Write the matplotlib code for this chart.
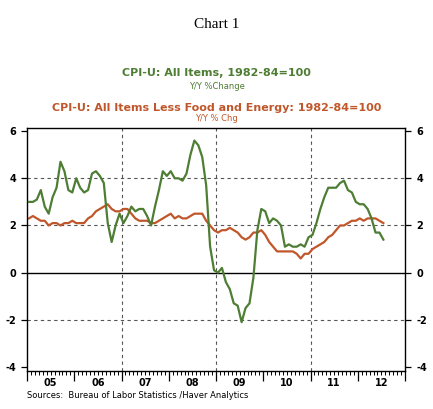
"""
CPI-U headline vs core, Y/Y % change
"""
import numpy as np
import matplotlib
matplotlib.use("Agg")
import matplotlib.pyplot as plt
from matplotlib.ticker import FixedLocator, MultipleLocator

# monthly values, Jan 2005 .. Jul 2012
cpi_all = [
    3.0, 3.0, 3.1, 3.5, 2.8, 2.5, 3.2, 3.6, 4.7, 4.3, 3.5, 3.4,   # 2005
    4.0, 3.6, 3.4, 3.5, 4.2, 4.3, 4.1, 3.8, 2.1, 1.3, 2.0, 2.5,   # 2006
    2.1, 2.4, 2.8, 2.6, 2.7, 2.7, 2.4, 2.0, 2.8, 3.5, 4.3, 4.1,   # 2007
    4.3, 4.0, 4.0, 3.9, 4.2, 5.0, 5.6, 5.4, 4.9, 3.7, 1.1, 0.1,   # 2008
    0.0, 0.2, -0.4, -0.7, -1.3, -1.4, -2.1, -1.5, -1.3, -0.2, 1.8, 2.7,  # 2009
    2.6, 2.1, 2.3, 2.2, 2.0, 1.1, 1.2, 1.1, 1.1, 1.2, 1.1, 1.5,   # 2010
    1.6, 2.1, 2.7, 3.2, 3.6, 3.6, 3.6, 3.8, 3.9, 3.5, 3.4, 3.0,   # 2011
    2.9, 2.9, 2.7, 2.3, 1.7, 1.7, 1.4,                            # 2012
]
cpi_core = [
    2.3, 2.4, 2.3, 2.2, 2.2, 2.0, 2.1, 2.1, 2.0, 2.1, 2.1, 2.2,
    2.1, 2.1, 2.1, 2.3, 2.4, 2.6, 2.7, 2.8, 2.9, 2.7, 2.6, 2.6,
    2.7, 2.7, 2.5, 2.3, 2.2, 2.2, 2.2, 2.1, 2.1, 2.2, 2.3, 2.4,
    2.5, 2.3, 2.4, 2.3, 2.3, 2.4, 2.5, 2.5, 2.5, 2.2, 2.0, 1.8,
    1.7, 1.8, 1.8, 1.9, 1.8, 1.7, 1.5, 1.4, 1.5, 1.7, 1.7, 1.8,
    1.6, 1.3, 1.1, 0.9, 0.9, 0.9, 0.9, 0.9, 0.8, 0.6, 0.8, 0.8,
    1.0, 1.1, 1.2, 1.3, 1.5, 1.6, 1.8, 2.0, 2.0, 2.1, 2.2, 2.2,
    2.3, 2.2, 2.3, 2.3, 2.3, 2.2, 2.1,
]
years = [2005, 2006, 2007, 2008, 2009, 2010, 2011, 2012]
year_labels = ["05", "06", "07", "08", "09", "10", "11", "12"]
y_ticks = [-4, -2, 0, 2, 4, 6]

GREEN = "#4e7d34"
ORANGE = "#c0572b"

t = 2005 + (np.arange(len(cpi_all)) + 0.5) / 12.0

fig = plt.figure(figsize=(4.33, 4.09), dpi=100)
ax = fig.add_axes([0.0624, 0.0929, 0.873, 0.594])

for y in [-2, 2, 4]:
    ax.axhline(y, color="#555555", lw=0.8, ls=(0, (3, 3)), zorder=1)
ax.axhline(0, color="black", lw=1.0, zorder=1)
for x in [2007, 2009, 2011]:
    ax.axvline(x, color="#555555", lw=0.8, ls=(0, (3, 3)), zorder=1)

ax.plot(t, cpi_all, color=GREEN, lw=1.6, zorder=3)
ax.plot(t, cpi_core, color=ORANGE, lw=1.6, zorder=2)

ax.set_xlim(2005, 2013)
ax.set_ylim(-4.17, 6.13)

# x axis: long ticks at years, short monthly ticks, labels mid-year
ax.xaxis.set_major_locator(FixedLocator(years + [2013]))
ax.xaxis.set_minor_locator(MultipleLocator(1 / 12))
ax.tick_params(axis="x", which="major", direction="out", length=7, width=0.9, labelbottom=False)
ax.tick_params(axis="x", which="minor", direction="out", length=3, width=0.7)
sec = ax.secondary_xaxis("bottom")
sec.set_xticks([y + 0.5 for y in years])
sec.set_xticklabels(year_labels, fontsize=7, fontweight="bold")
sec.tick_params(length=0, pad=5)
sec.spines["bottom"].set_visible(False)

ax.set_yticks(y_ticks)
ax.set_yticklabels([str(v) for v in y_ticks], fontsize=7, fontweight="bold")
ax.tick_params(axis="y", direction="out", length=4, width=0.9, left=True, right=True,
               labelleft=True, labelright=True, pad=4)
for s in ax.spines.values():
    s.set_linewidth(1.0)

fig.text(0.5, 0.94, "Chart 1", ha="center", va="center", fontsize=11, family="Liberation Serif")
fig.text(0.5, 0.822, "CPI-U: All Items, 1982-84=100", ha="center", va="center",
         fontsize=8, fontweight="bold", color=GREEN)
fig.text(0.5, 0.789, "Y/Y %Change", ha="center", va="center", fontsize=6, color=GREEN)
fig.text(0.5, 0.736, "CPI-U: All Items Less Food and Energy: 1982-84=100", ha="center", va="center",
         fontsize=8, fontweight="bold", color=ORANGE)
fig.text(0.5, 0.711, "Y/Y % Chg", ha="center", va="center", fontsize=6, color=ORANGE)
fig.text(0.0624, 0.034, "Sources:  Bureau of Labor Statistics /Haver Analytics", ha="left", va="center",
         fontsize=6)

fig.savefig("out.png", dpi=100)
